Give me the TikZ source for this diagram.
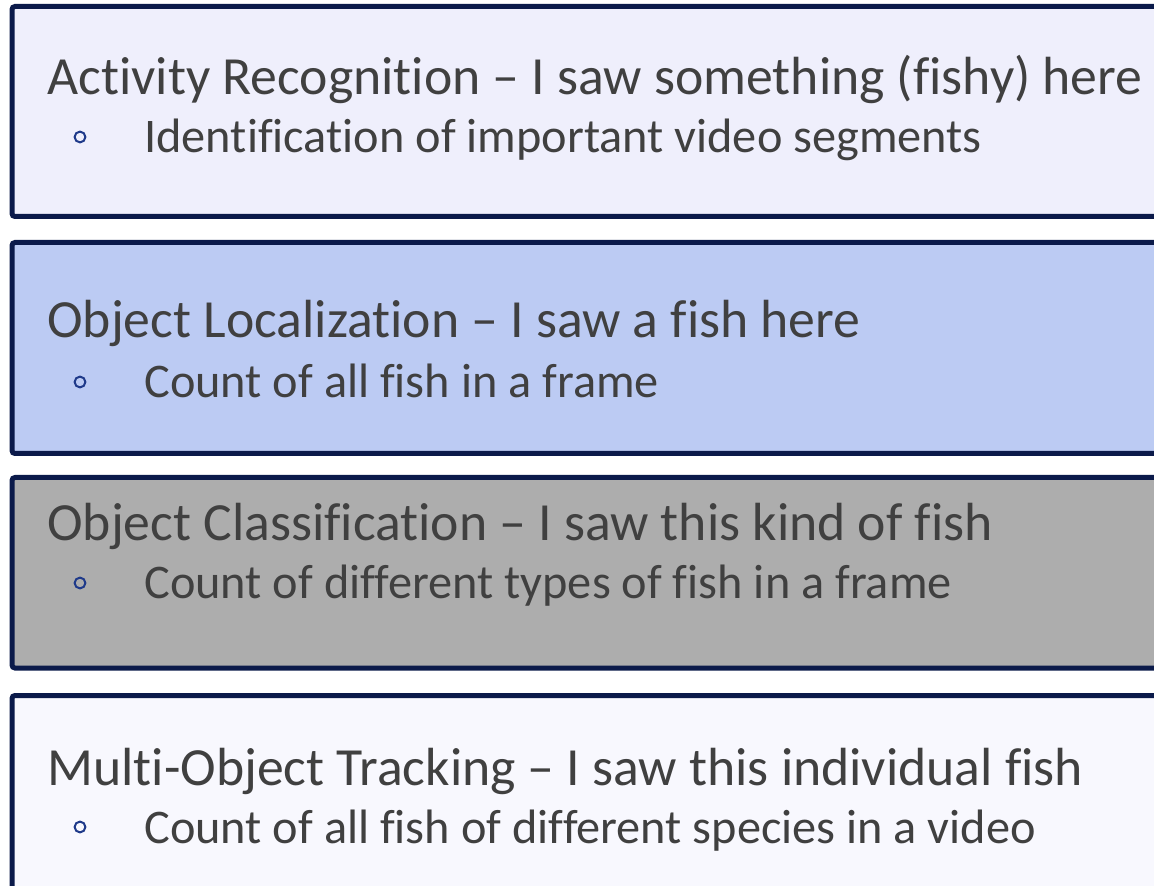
\documentclass[tikz,border=0pt]{standalone}
\usepackage{fontspec}
\setmainfont{Carlito}[Ligatures={NoCommon}]
\definecolor{navyline}{HTML}{0B1A4A}
\definecolor{textgray}{HTML}{404040}
\definecolor{ringblue}{HTML}{1F3A8A}
\definecolor{lavender}{HTML}{EFEFFC}
\definecolor{paleblue}{HTML}{BCCBF3}
\definecolor{midgray}{HTML}{ADADAD}
\definecolor{ghostwhite}{HTML}{F8F8FE}
\tikzset{%
  % Specifications for style of nodes:
            base1/.style = {rectangle, rounded corners=1.5pt, draw=navyline,
                           line width=2.5pt, minimum width=578.75pt,
                           anchor=north west, inner sep=0pt, outer sep=0pt},
       lavenderbox/.style = {base1, fill=lavender},
       bluebox/.style = {base1, fill=paleblue},
       graybox/.style = {base1, fill=midgray},
       whitebox/.style = {base1, fill=ghostwhite},
       headline/.style = {anchor=base west, inner sep=0pt, text=textgray,
                           font=\fontsize{26.85}{32}\selectfont},
       subline/.style = {anchor=base west, inner sep=0pt, text=textgray,
                           font=\fontsize{24.15}{29}\selectfont},
       ringdot/.style = {circle, draw=ringblue, line width=1pt,
                           minimum size=5.4pt, inner sep=0pt}
}

\begin{document}
\begin{tikzpicture}[x=0.5pt, y=-0.5pt]
  \useasboundingbox (0,0) rectangle (1154,886);
  \clip (0,0) rectangle (1154,886);
  % Boxes (they run off the right edge)
  \node (recog)    [lavenderbox, minimum height=105pt]   at (12,6.5) {};
  \node (local)    [bluebox, minimum height=105.5pt]     at (12,242.5) {};
  \node (classif)  [graybox, minimum height=95.25pt]    at (12,477.5) {};
  \node (track)    [whitebox, minimum height=96.75pt]    at (12,695.5) {};
  % Headings
  \node (recogtitle)   [headline] at (47,95)  {Activity Recognition – I saw something (fishy) here};
  \node (localtitle)   [headline] at (47,338) {Object Localization – I saw a fish here};
  \node (classiftitle) [headline] at (47,540) {Object Classification – I saw this kind of fish};
  \node (tracktitle)   [headline] at (47,785) {Multi-Object Tracking – I saw this individual fish};
  % Bullets and sub items
  \node (recogdot)   [ringdot] at (80,137) {};
  \node (localdot)   [ringdot] at (80,382) {};
  \node (classifdot) [ringdot] at (80,583) {};
  \node (trackdot)   [ringdot] at (80,827) {};
  \node (recogitem)   [subline] at (144,153) {Identification of important video segments};
  \node (localitem)   [subline] at (144,398) {Count of all fish in a frame};
  \node (classifitem) [subline] at (144,598) {Count of different types of fish in a frame};
  \node (trackitem)   [subline] at (144,843) {Count of all fish of different species in a video};
\end{tikzpicture}
\end{document}
